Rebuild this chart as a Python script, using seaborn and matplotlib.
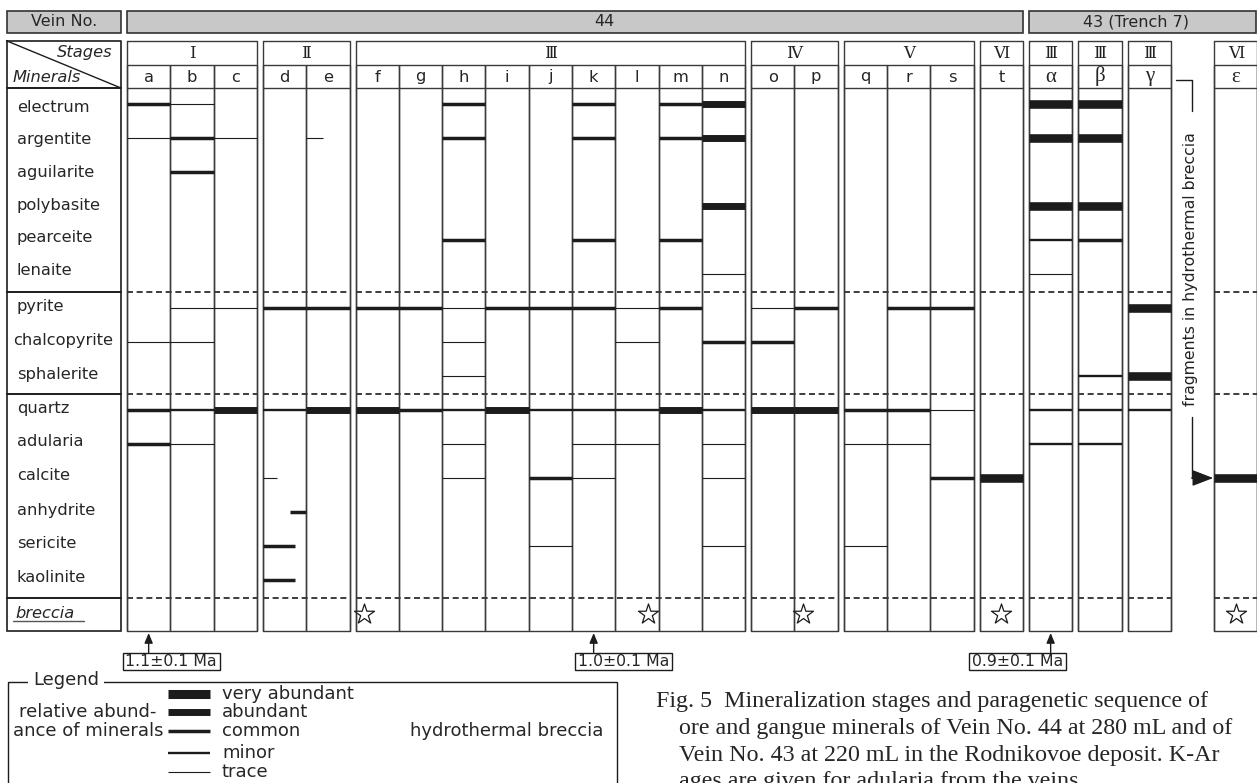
import matplotlib.pyplot as plt
import numpy as np
import pandas as pd
import seaborn as sns
from matplotlib.patches import Rectangle

sns.set_theme(style='white')
plt.rcParams['font.family'] = ['DejaVu Sans']
SERIF = ['Liberation Serif', 'DejaVu Serif']
ROMAN = ['DejaVu Serif', 'DejaVu Sans']

# ---- values ----
minerals = ['electrum', 'argentite', 'aguilarite', 'polybasite', 'pearceite', 'lenaite',
            'pyrite', 'chalcopyrite', 'sphalerite',
            'quartz', 'adularia', 'calcite', 'anhydrite', 'sericite', 'kaolinite']
mineral_groups = [6, 3, 6]
columns = ['a', 'b', 'c', 'd', 'e', 'f', 'g', 'h', 'i', 'j', 'k', 'l', 'm', 'n',
           'o', 'p', 'q', 'r', 's', 't', 'α', 'β', 'γ', 'ε']
stages = ['Ⅰ', 'Ⅱ', 'Ⅲ', 'Ⅳ', 'Ⅴ', 'Ⅵ', 'Ⅲ', 'Ⅲ', 'Ⅲ', 'Ⅵ']
stage_cols = [3, 2, 9, 2, 3, 1, 1, 1, 1, 1]
veins = ['44', '43 (Trench 7)']
vein_stage_count = [6, 4]
abundance_names = ['very abundant', 'abundant', 'common', 'minor', 'trace']

# 0 none, 1 trace, 2 minor, 3 common, 4 abundant, 5 very abundant
#               a  b  c  d  e  f  g  h  i  j  k  l  m  n  o  p  q  r  s  t  α  β  γ  ε
electrum     = [3, 1, 0, 0, 0, 0, 0, 3, 0, 0, 3, 0, 3, 4, 0, 0, 0, 0, 0, 0, 5, 5, 0, 0]
argentite    = [1, 3, 1, 0, 0, 0, 0, 3, 0, 0, 3, 0, 3, 4, 0, 0, 0, 0, 0, 0, 5, 5, 0, 0]
aguilarite   = [0, 3, 0, 0, 0, 0, 0, 0, 0, 0, 0, 0, 0, 0, 0, 0, 0, 0, 0, 0, 0, 0, 0, 0]
polybasite   = [0, 0, 0, 0, 0, 0, 0, 0, 0, 0, 0, 0, 0, 4, 0, 0, 0, 0, 0, 0, 5, 5, 0, 0]
pearceite    = [0, 0, 0, 0, 0, 0, 0, 3, 0, 0, 3, 0, 3, 0, 0, 0, 0, 0, 0, 0, 2, 3, 0, 0]
lenaite      = [0, 0, 0, 0, 0, 0, 0, 0, 0, 0, 0, 0, 0, 1, 0, 0, 0, 0, 0, 0, 1, 0, 0, 0]
pyrite       = [0, 1, 1, 3, 3, 3, 3, 1, 3, 3, 3, 1, 3, 0, 1, 3, 0, 3, 3, 0, 0, 0, 5, 0]
chalcopyrite = [1, 1, 0, 0, 0, 0, 0, 1, 0, 0, 0, 1, 0, 3, 3, 0, 0, 0, 0, 0, 0, 0, 0, 0]
sphalerite   = [0, 0, 0, 0, 0, 0, 0, 1, 0, 0, 0, 0, 0, 0, 0, 0, 0, 0, 0, 0, 0, 2, 5, 0]
quartz       = [3, 2, 4, 2, 4, 4, 3, 2, 4, 2, 2, 2, 4, 2, 4, 4, 3, 3, 1, 0, 2, 2, 2, 0]
adularia     = [3, 1, 0, 0, 0, 0, 0, 1, 0, 0, 1, 1, 0, 1, 0, 0, 1, 1, 0, 0, 2, 2, 0, 0]
calcite      = [0, 0, 0, 0, 0, 0, 0, 1, 0, 3, 1, 0, 0, 1, 0, 0, 0, 0, 3, 5, 0, 0, 0, 5]
anhydrite    = [0, 0, 0, 0, 0, 0, 0, 0, 0, 0, 0, 0, 0, 0, 0, 0, 0, 0, 0, 0, 0, 0, 0, 0]
sericite     = [0, 0, 0, 0, 0, 0, 0, 0, 0, 1, 0, 0, 0, 1, 0, 0, 1, 0, 0, 0, 0, 0, 0, 0]
kaolinite    = [0, 0, 0, 0, 0, 0, 0, 0, 0, 0, 0, 0, 0, 0, 0, 0, 0, 0, 0, 0, 0, 0, 0, 0]

# short segments covering only part of a column (fraction of column width)
partial_col = ['e', 'd', 'd', 'd', 'd']
partial_mineral = ['argentite', 'calcite', 'anhydrite', 'sericite', 'kaolinite']
partial_level = [1, 1, 3, 3, 3]
partial_start = [0.0, 0.0, 0.62, 0.0, 0.0]
partial_end = [0.38, 0.32, 1.0, 0.73, 0.73]

breccia_cols = ['f', 'l', 'p', 't', 'ε']
breccia_frac = [0.2, 0.75, 0.2, 0.5, 0.5]

age_text = ['1.1±0.1 Ma', '1.0±0.1 Ma', '0.9±0.1 Ma']
age_cols = ['a', 'k', 'α']

caption = ['Fig. 5  Mineralization stages and paragenetic sequence of',
           'ore and gangue minerals of Vein No. 44 at 280 mL and of',
           'Vein No. 43 at 220 mL in the Rodnikovoe deposit. K-Ar',
           'ages are given for adularia from the veins.']

table = pd.DataFrame({m: globals()[m] for m in minerals}, index=columns)
long = table.reset_index(names='column').melt(id_vars='column', var_name='mineral',
                                              value_name='level')
long = long[long['level'] > 0]

# ---- layout ----
INK = '#1c1c1c'
GRID = '#3a3a3a'
LW = {1: 0.8, 2: 1.7, 3: 2.5, 4: 5.0, 5: 6.2}
X0, CW, GAP = 127.0, 43.3, 6.0
Y0, RH = 104.0, 34.0
Y_TOP, Y_STAGE, Y_HEAD, Y_BOT = 41.0, 65.0, 88.0, 631.0
row_y = {m: Y0 + RH * i for i, m in enumerate(minerals)}
BRECCIA_Y = Y0 + RH * len(minerals)
dash_y = Y0 + RH * (np.cumsum(mineral_groups) - 1 + 0.53)

col_x = {}
groups = []
x = X0
k = 0
for g, n in enumerate(stage_cols):
    if g == len(stage_cols) - 1:
        x += CW - GAP  # ε is set one blank column to the right
    left = x
    for _ in range(n):
        col_x[columns[k]] = x
        x += CW
        k += 1
    groups.append((left, x))
    x += GAP

fig = plt.figure(figsize=(12.57, 7.83), dpi=100)
ax = fig.add_axes([0, 0, 1, 1])

# vein header
ax.add_patch(Rectangle((7, 11), 114, 21.5, fc='#c8c8c8', ec='#333333', lw=1.2))
ax.text(64, 22, 'Vein No.', ha='center', va='center', fontsize=11.5)
g0 = 0
vein_dx = [29, -7]
for name, cnt, dx in zip(veins, vein_stage_count, vein_dx):
    l = groups[g0][0]
    r = min(groups[g0 + cnt - 1][1], 1256.3)
    ax.add_patch(Rectangle((l, 11), r - l, 21.5, fc='#c8c8c8', ec='#333333', lw=1.2))
    ax.text((l + r) / 2 + dx, 22, name, ha='center', va='center', fontsize=11.5)
    g0 += cnt

# stage groups and columns
for (l, r), name in zip(groups, stages):
    ax.plot([l, r, r, l, l], [Y_TOP, Y_TOP, Y_BOT, Y_BOT, Y_TOP], color=GRID, lw=1.0)
    ax.hlines([Y_STAGE, Y_HEAD], l, r, color=GRID, lw=1.0)
    ax.hlines(dash_y, l, r, color=INK, lw=1.2, linestyles=[(0, (3.6, 2.2))])
    ax.text((l + r) / 2, 58.5, name, ha='center', va='baseline', fontsize=12,
            family=ROMAN, color='#222222')
for c in columns:
    xl = col_x[c]
    ax.vlines([xl, xl + CW], Y_STAGE, Y_BOT, color=GRID, lw=1.0)
    if c in 'αβγε':
        ax.text(xl + CW / 2, 81.5, c, ha='center', va='baseline', fontsize=15, family=SERIF)
    else:
        ax.text(xl + CW / 2, 81.5, c, ha='center', va='baseline', fontsize=11.7)

# left label table
LX0, LX1 = 7.0, 121.0
ax.plot([LX0, LX1, LX1, LX0, LX0], [Y_TOP, Y_TOP, Y_HEAD, Y_HEAD, Y_TOP], color=INK, lw=1.2)
ax.plot([LX0, LX1], [Y_TOP, Y_HEAD], color=INK, lw=1.0)
ax.text(113, 56.5, 'Stages', ha='right', va='baseline', fontsize=11.7, style='italic')
ax.text(12.5, 81.5, 'Minerals', ha='left', va='baseline', fontsize=11.7, style='italic')
bounds = [Y_HEAD] + list(dash_y) + [Y_BOT]
for top, bot in zip(bounds[:-1], bounds[1:]):
    ax.add_patch(Rectangle((LX0, top), LX1 - LX0, bot - top, fc='none', ec=INK, lw=1.2))
for i, m in enumerate(minerals):
    yb = 111.5 + 32.7 * i if i < mineral_groups[0] else row_y[m] + 2.5
    xt = 13 if m == 'chalcopyrite' else 17
    ax.text(xt, yb, m, ha='left', va='baseline', fontsize=11.7)
ax.text(15, 618, 'breccia', ha='left', va='baseline', fontsize=11.7, style='italic')
ax.plot([12.5, 83.5], [621, 621], color='#555555', lw=1.0)

# abundance segments
for lvl, sub in long.groupby('level'):
    xs = sub['column'].map(col_x).to_numpy()
    ys = sub['mineral'].map(row_y).to_numpy()
    ax.hlines(ys, xs, xs + CW, color=INK, lw=LW[lvl], capstyle='butt', zorder=3)
for c, m, lvl, s, e in zip(partial_col, partial_mineral, partial_level,
                           partial_start, partial_end):
    ax.hlines(row_y[m], col_x[c] + s * CW, col_x[c] + e * CW, color=INK, lw=LW[lvl],
              capstyle='butt', zorder=3)

# hydrothermal breccia stars
sns.scatterplot(x=[col_x[c] + f * CW for c, f in zip(breccia_cols, breccia_frac)],
                y=[BRECCIA_Y] * len(breccia_cols), marker='*', s=230,
                facecolor='white', edgecolor=INK, linewidth=0.9, ax=ax, zorder=4,
                legend=False)

# fragments note
ax.text(1190, 269, 'fragments in hydrothermal breccia', rotation=90, ha='center',
        va='center', fontsize=11.3, color='#222222')
ax.plot([1176, 1191.7, 1191.7], [80, 80, 111], color=INK, lw=1.0)
ax.plot([1191.7, 1191.7], [416.7, row_y['calcite']], color=INK, lw=1.0)
ax.annotate('', xy=(col_x['ε'] - 1, row_y['calcite']), xytext=(1191.7, row_y['calcite']),
            arrowprops=dict(arrowstyle='-|>,head_length=0.65,head_width=0.25',
                            mutation_scale=20, color=INK, lw=1.0, shrinkA=0, shrinkB=0))

# K-Ar ages
age_box_dx = [-26, -19, -82]
for txt, c, dx in zip(age_text, age_cols, age_box_dx):
    xa = col_x[c] + CW / 2
    ax.annotate('', xy=(xa, 633), xytext=(xa, 652.5),
                arrowprops=dict(arrowstyle='-|>,head_length=0.6,head_width=0.25',
                                mutation_scale=10, color=INK, lw=1.0, shrinkA=0, shrinkB=0))
    ax.add_patch(Rectangle((xa + dx, 652.5), 97, 17.5, fc='white', ec=INK, lw=1.0))
    ax.text(xa + dx + 48.5, 661.5, txt, ha='center', va='center', fontsize=11.3)

# legend
ax.add_patch(Rectangle((7.5, 681.7), 609, 130, fc='none', ec=INK, lw=1.0))
ax.text(33, 680, 'Legend', ha='left', va='center', fontsize=13,
        bbox=dict(boxstyle='square,pad=0.3', fc='white', ec='none'))
leg_y = [694, 712, 731, 752.5, 772]
for name, lvl, yy in zip(abundance_names, [5, 4, 3, 2, 1], leg_y):
    ax.hlines(yy, 168, 210, color=INK, lw=LW[lvl] + (0.3 if lvl == 5 else 0), capstyle='butt')
    ax.text(222, yy, name, ha='left', va='center', fontsize=13)
ax.text(88, 712, 'relative abund-', ha='center', va='center', fontsize=13)
ax.text(88, 731, 'ance of minerals', ha='center', va='center', fontsize=13)
ax.text(410, 731, 'hydrothermal breccia', ha='left', va='center', fontsize=13)

# caption
cap_x = [655.7, 679.4, 679.4, 679.4]
cap_y = [701.7, 728.5, 755.3, 782]
for txt, cx, cy in zip(caption, cap_x, cap_y):
    ax.text(cx, cy, txt, ha='left', va='center', fontsize=17.3, family=SERIF)

ax.set_xlim(0, 1257)
ax.set_ylim(783, 0)
ax.axis('off')
fig.savefig('out.png', dpi=100)
